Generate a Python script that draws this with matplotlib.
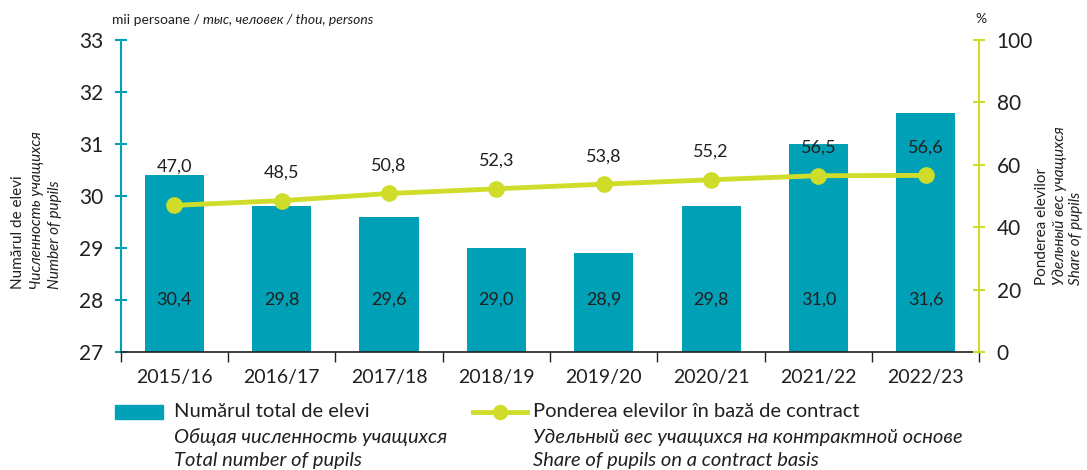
import matplotlib.pyplot as plt
import numpy as np
from matplotlib.patches import Rectangle
from matplotlib.lines import Line2D

years = ["2015/16", "2016/17", "2017/18", "2018/19", "2019/20", "2020/21", "2021/22", "2022/23"]
pupils = [30.4, 29.8, 29.6, 29.0, 28.9, 29.8, 31.0, 31.6]
share = [47.0, 48.5, 50.8, 52.3, 53.8, 55.2, 56.5, 56.6]

teal = "#00A0B6"
lime = "#CFDD2A"
txt = "#231F20"

plt.rcParams['font.family'] = ['Lato', 'DejaVu Sans']

def fmt(v):
    return f"{v:.1f}".replace(".", ",")

fig = plt.figure(figsize=(10.87, 4.70), dpi=100)
ax = fig.add_axes([0.111, 0.251, 0.790, 0.664])
ax2 = ax.twinx()

x = np.arange(len(years))
ax.bar(x, pupils, width=0.55, color=teal, zorder=2)
ax.set_ylim(27, 33)
ax.set_xlim(-0.5, len(years) - 0.5)

for i, v in enumerate(pupils):
    ax.text(i, 28, fmt(v), ha="center", va="center", fontsize=13, color=txt, zorder=3)

ax2.plot(x, share, color=lime, lw=3.5, marker="o", markersize=11, zorder=4)
ax2.set_ylim(0, 100)
for i, v in enumerate(share):
    off = 28 if i == 0 else 20
    ax2.annotate(fmt(v), (i, v), xytext=(0, off), textcoords="offset points",
                 ha="center", va="center", fontsize=13, color=txt)

# spines
for a in (ax, ax2):
    a.spines["top"].set_visible(False)
ax.spines["right"].set_visible(False)
ax.spines["left"].set_color(teal)
ax.spines["left"].set_linewidth(1.5)
ax2.spines["left"].set_visible(False)
ax2.spines["bottom"].set_visible(False)
ax2.spines["right"].set_color(lime)
ax2.spines["right"].set_linewidth(1.5)
ax.spines["bottom"].set_color(txt)
ax.spines["bottom"].set_linewidth(1.2)

ax.set_yticks(range(27, 34))
ax.tick_params(axis="y", direction="inout", length=9, width=1.5, color=teal,
               labelsize=15, labelcolor=txt, pad=8)
ax2.set_yticks(range(0, 101, 20))
ax2.tick_params(axis="y", direction="inout", length=9, width=1.5, color=lime,
                labelsize=15, labelcolor=txt, pad=8)

ax.set_xticks(x)
ax.set_xticklabels(years, fontsize=14, color=txt)
ax.tick_params(axis="x", length=0, pad=12)
ax.set_xticks(np.arange(-0.5, len(years)), minor=True)
ax.tick_params(axis="x", which="minor", direction="out", length=7, width=1, color=txt)

# unit labels
t = fig.text(0.103, 0.957, "mii persoane / ", fontsize=10, color=txt, ha="left", va="center")
ax.annotate("тыс, человек / thou, persons", xy=(1, 0.5), xycoords=t, ha="left", va="center",
            fontsize=10, color=txt, style="italic", annotation_clip=False)
fig.text(0.897, 0.960, "%", fontsize=10, color=txt, ha="left", va="center")

# axis titles
fig.text(0.017, 0.385, "Numărul de elevi", rotation=90, fontsize=11, color=txt, ha="center", va="bottom")
fig.text(0.034, 0.385, "Численность учащихся", rotation=90, fontsize=11, color=txt,
         ha="center", va="bottom", style="italic")
fig.text(0.051, 0.385, "Number of pupils", rotation=90, fontsize=11, color=txt,
         ha="center", va="bottom", style="italic")
fig.text(0.959, 0.393, "Ponderea elevilor", rotation=90, fontsize=11, color=txt, ha="center", va="bottom")
fig.text(0.975, 0.393, "Удельный вес учащихся", rotation=90, fontsize=11, color=txt,
         ha="center", va="bottom", style="italic")
fig.text(0.990, 0.393, "Share of pupils", rotation=90, fontsize=11, color=txt,
         ha="center", va="bottom", style="italic")

# legend
fig.add_artist(Rectangle((0.106, 0.108), 0.044, 0.030, transform=fig.transFigure, color=teal))
fig.text(0.160, 0.124, "Numărul total de elevi", fontsize=14.5, color=txt, va="center")
fig.text(0.160, 0.070, "Общая численность учащихся", fontsize=14.5, color=txt, va="center", style="italic")
fig.text(0.160, 0.020, "Total number of pupils", fontsize=14.5, color=txt, va="center", style="italic")
fig.add_artist(Line2D([0.435, 0.485], [0.124, 0.124], transform=fig.transFigure,
                      color=lime, lw=3.5))
fig.add_artist(Line2D([0.460], [0.124], transform=fig.transFigure, color=lime, marker="o",
                      markersize=10, linestyle="none"))
fig.text(0.490, 0.124, "Ponderea elevilor în bază de contract", fontsize=14.5, color=txt, va="center")
fig.text(0.490, 0.070, "Удельный вес учащихся на контрактной основе", fontsize=14.5, color=txt,
         va="center", style="italic")
fig.text(0.490, 0.020, "Share of pupils on a contract basis", fontsize=14.5, color=txt,
         va="center", style="italic")

fig.savefig("out.png", dpi=100)
